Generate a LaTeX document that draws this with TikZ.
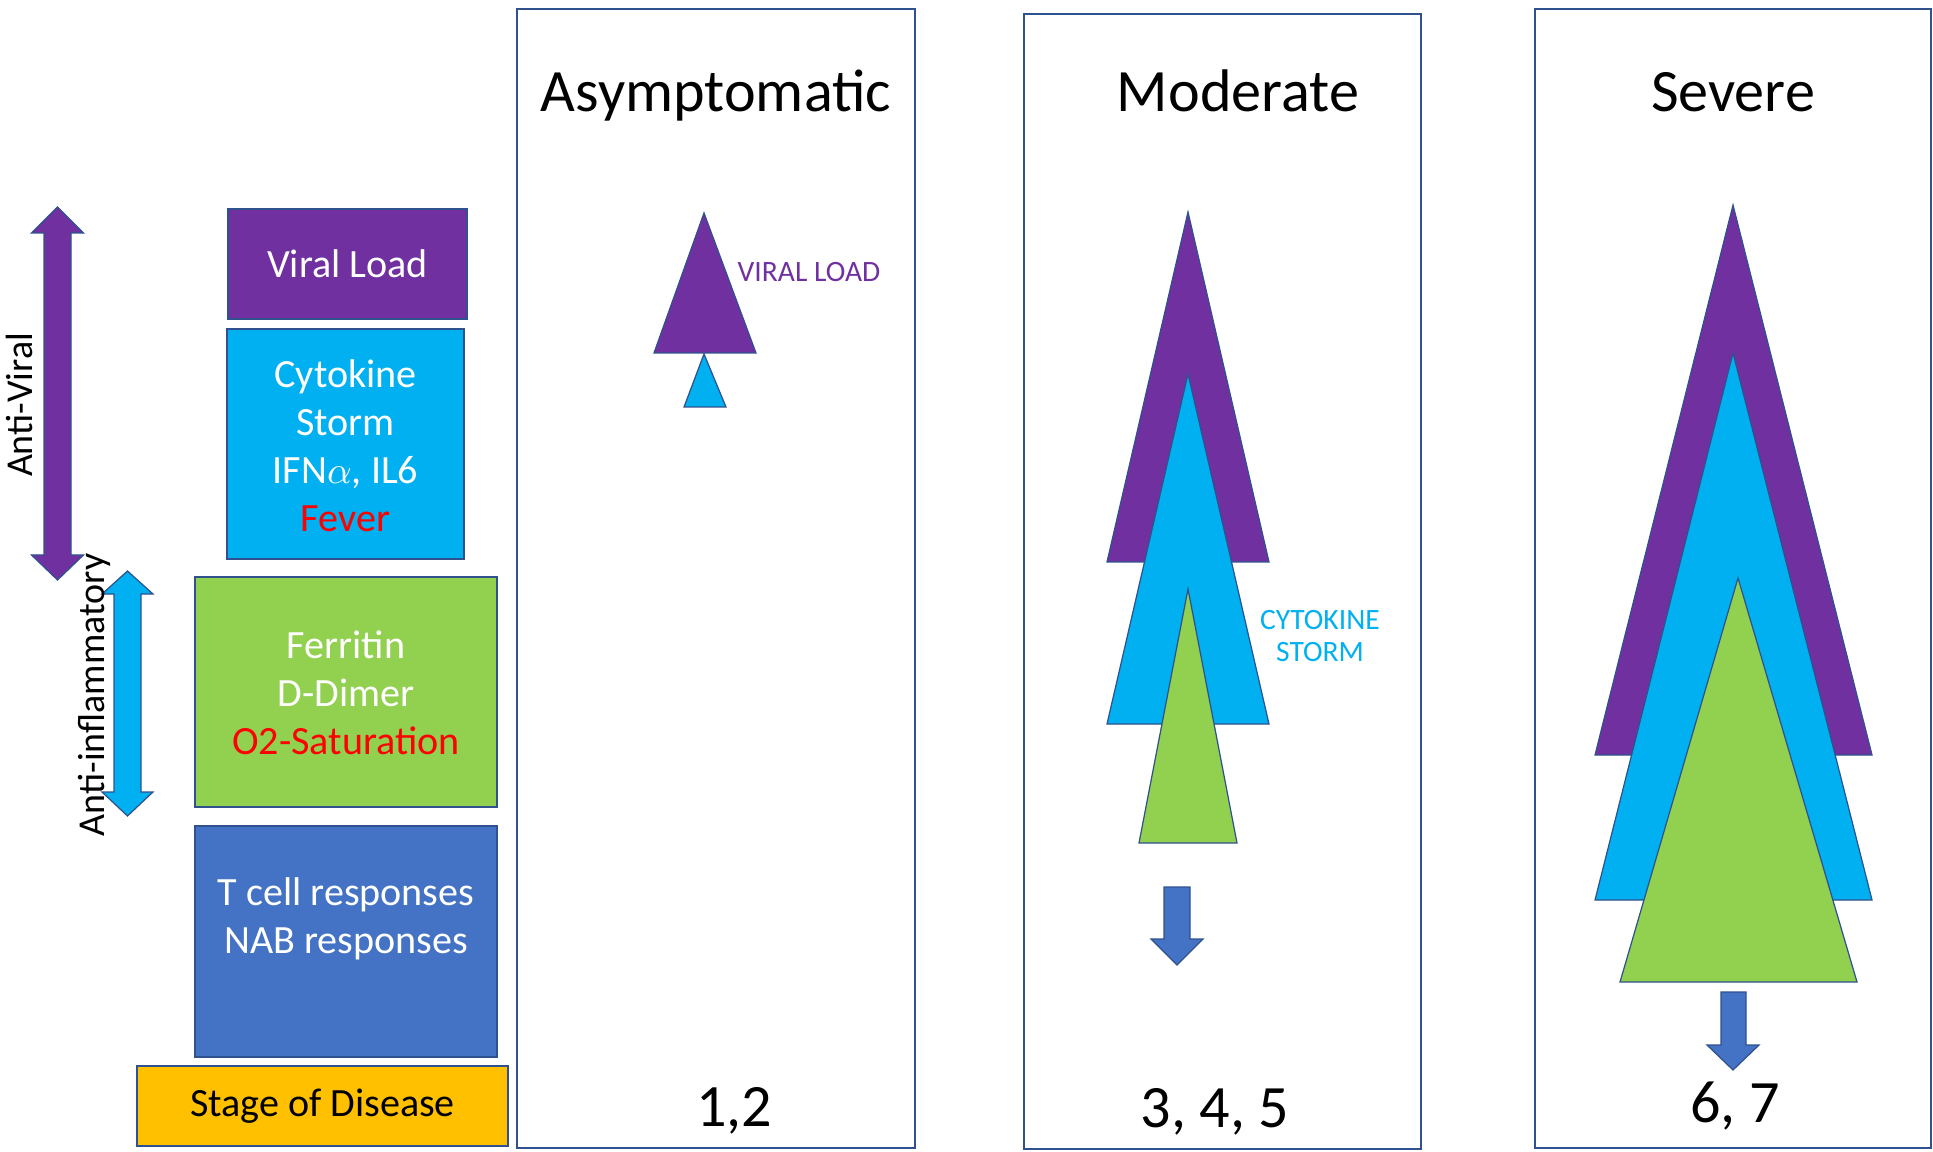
\documentclass[tikz,border=0pt]{standalone}
\usepackage{fontspec}
\setmainfont{Carlito}
\usepackage{tikz}
\usetikzlibrary{arrows}

\definecolor{viral}{HTML}{7030A0}
\definecolor{storm}{HTML}{00B0F0}
\definecolor{ferritin}{HTML}{92D050}
\definecolor{tcell}{HTML}{4472C4}
\definecolor{stage}{HTML}{FFC000}
\definecolor{rim}{HTML}{2F528F}

\tikzset{
  panel/.style={draw=rim, line width=0.8pt},
  leftbox/.style={draw=rim, line width=0.5pt},
  boxtext/.style={text=white, align=center, inner sep=0pt, font=\fontsize{11.4}{13.66}\selectfont},
  stagetitle/.style={anchor=base, inner sep=0pt, font=\fontsize{17.1}{20}\selectfont},
  sidelabel/.style={anchor=base, rotate=90, inner sep=0pt, font=\fontsize{10.8}{13}\selectfont},
  trilabel/.style={align=center, inner sep=0pt, font=\fontsize{8.4}{9.1}\selectfont},
  tri/.style={draw=rim, line width=0.35pt, line join=miter},
  blockarrow/.style={draw=rim, line width=0.35pt}
}

\begin{document}
\begin{tikzpicture}[x=0.01cm, y=-0.01cm]
  \useasboundingbox (0,0) rectangle (1933,1152);

  % the three stages
  \draw [panel] (517,9) rectangle (915,1148);
  \draw [panel] (1024,14) rectangle (1421,1149);
  \draw [panel] (1535,9) rectangle (1931,1148);
  \node [stagetitle] (asym) at (716,112) {Asymptomatic};
  \node [stagetitle] (moder) at (1238,112) {Moderate};
  \node [stagetitle] (sev) at (1733,112) {Severe};
  \node [stagetitle] (asymnum) at (734,1126) {1,2};
  \node [stagetitle] (modernum) at (1215,1127) {3, 4, 5};
  \node [stagetitle] (sevnum) at (1735,1122) {6, 7};

  % legend boxes
  \draw [leftbox, fill=viral] (228,209) rectangle (467,319);
  \node [boxtext] (vload) at (347.5,264) {Viral Load};
  \draw [leftbox, fill=storm] (227,329) rectangle (464,559);
  \node [boxtext] (cyto) at (345.5,446) {Cytokine\\Storm\\IFN$\alpha$, IL6\\\textcolor{red}{Fever}};
  \draw [leftbox, fill=ferritin] (195,577) rectangle (497,807);
  \node [boxtext] (ferr) at (346,693) {Ferritin\\D-Dimer\\\textcolor{red}{O2-Saturation}};
  \draw [leftbox, fill=tcell] (195,826) rectangle (497,1057);
  \node [boxtext] (tresp) at (346,919) {T cell responses\\NAB responses};
  \draw [leftbox, fill=stage] (137,1066) rectangle (508,1146);
  \node [boxtext, text=black] (stg) at (322.5,1106) {Stage of Disease};

  % side arrows
  \draw [blockarrow, fill=viral] (57.5,207) -- (83.5,233) -- (71,233) -- (71,555) -- (83.5,555)
    -- (57.5,580) -- (31.5,555) -- (44,555) -- (44,233) -- (31.5,233) -- cycle;
  \node [sidelabel] (antiviral) at (32,405) {Anti-Viral};
  \draw [blockarrow, fill=storm] (127.5,571) -- (153,594) -- (141,594) -- (141,792) -- (153,792)
    -- (127.5,816) -- (102,792) -- (114,792) -- (114,594) -- (102,594) -- cycle;
  \node [sidelabel] (antiinfl) at (104,695) {Anti-inflammatory};

  % asymptomatic
  \draw [tri, fill=viral] (704,213) -- (756,353) -- (654,353) -- cycle;
  \draw [tri, fill=storm] (704,354) -- (726,407) -- (684,407) -- cycle;
  \node [trilabel, anchor=west, text=viral] (vloadtag) at (737,272) {VIRAL LOAD};

  % moderate
  \draw [tri, fill=viral] (1188,212) -- (1269,562) -- (1107,562) -- cycle;
  \draw [tri, fill=storm] (1188,374) -- (1269,724) -- (1107,724) -- cycle;
  \draw [tri, fill=ferritin] (1188,589) -- (1237,843) -- (1139,843) -- cycle;
  \node [trilabel, text=storm] (cytotag) at (1320,636) {CYTOKINE\\STORM};
  \draw [blockarrow, fill=tcell] (1164,887) -- (1190,887) -- (1190,939) -- (1203,939)
    -- (1177,965) -- (1151,939) -- (1164,939) -- cycle;

  % severe
  \draw [tri, fill=viral] (1733,205) -- (1872,755) -- (1595,755) -- cycle;
  \draw [tri, fill=storm] (1733,353) -- (1872,900) -- (1595,900) -- cycle;
  \draw [tri, fill=ferritin] (1738,578) -- (1857,982) -- (1620,982) -- cycle;
  \draw [blockarrow, fill=tcell] (1721,992) -- (1746,992) -- (1746,1045) -- (1759,1045)
    -- (1733,1070) -- (1707,1045) -- (1721,1045) -- cycle;
\end{tikzpicture}
\end{document}
